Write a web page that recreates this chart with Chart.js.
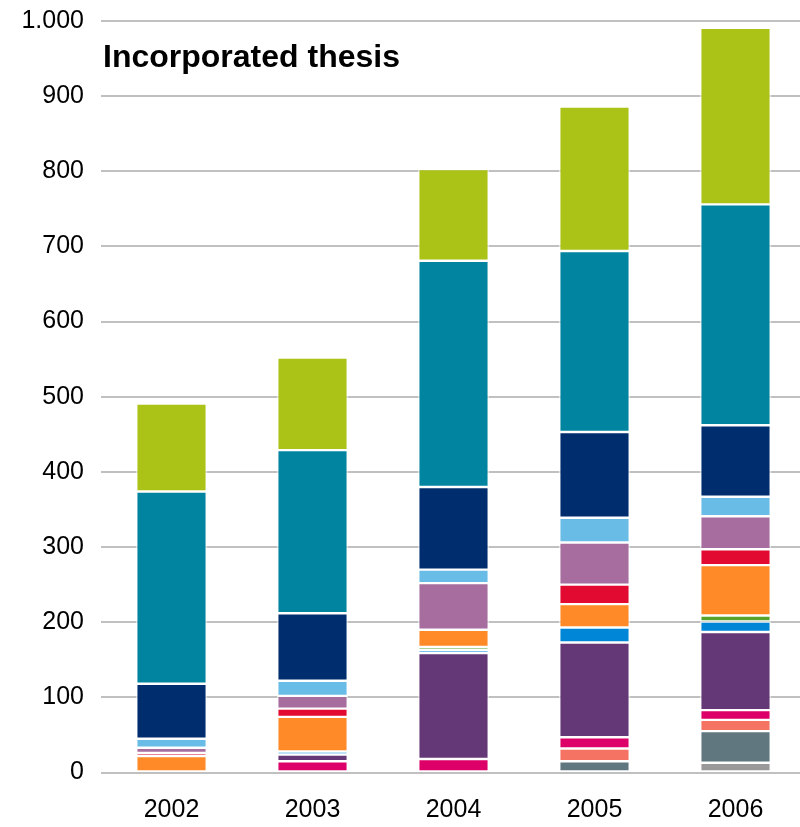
<!DOCTYPE html>
<html>
<head>
<meta charset="utf-8">
<script src="https://cdn.jsdelivr.net/npm/chart.js@4.4.1/dist/chart.umd.min.js"></script>
<style>
  html, body { margin: 0; padding: 0; background: #fff; overflow: hidden; }
  #wrap { width: 806px; height: 827px; }
</style>
</head>
<body>
<div id="wrap"><canvas id="thesisChart" width="806" height="827"></canvas></div>
<script>
const years = ["2002", "2003", "2004", "2005", "2006"];
const yTicks = [0, 100, 200, 300, 400, 500, 600, 700, 800, 900, 1000];

// stacked from the bottom up
const grey      = [null, null, null, null, 13];
const slate     = [null, null, null, 15, 42];
const salmon    = [null, null, null, 17, 15];
const magenta   = [null, 15, 18, 15, 13];
const purple    = [null, 9, 141, 126, 104];
const blue      = [null, 4, 4, 20, 14];
const green     = [null, null, 4, null, 8];
const orange    = [22, 46, 23, 31, 67];
const red       = [4, 11, null, 26, 21];
const mauve     = [7, 17, 62, 56, 44];
const lightBlue = [12, 20, 18, 33, 26];
const navy      = [73, 90, 110, 114, 95];
const teal      = [256, 217, 301, 241, 294];
const lime      = [117, 123, 122, 192, 235];

const series = [
  ["Grey", grey, "#999999"],
  ["Slate", slate, "#617780"],
  ["Salmon", salmon, "#f57363"],
  ["Magenta", magenta, "#dc0068"],
  ["Purple", purple, "#643776"],
  ["Blue", blue, "#0086d6"],
  ["Green", green, "#56a42e"],
  ["Orange", orange, "#ff8a27"],
  ["Red", red, "#e20a30"],
  ["Mauve", mauve, "#a66d9e"],
  ["Light blue", lightBlue, "#68bce6"],
  ["Navy", navy, "#002d6e"],
  ["Teal", teal, "#00849f"],
  ["Lime", lime, "#abc217"],
];

const titleText = {
  id: "titleText",
  afterDraw(chart) {
    const { ctx, chartArea } = chart;
    ctx.save();
    ctx.font = "bold 32px 'Liberation Sans', Arial, sans-serif";
    ctx.fillStyle = "#000";
    ctx.textBaseline = "alphabetic";
    ctx.fillText("Incorporated thesis", chartArea.left + 2, chartArea.top + 46);
    ctx.restore();
  }
};

const fmt = v => v >= 1000 ? Math.floor(v / 1000) + "." + String(v % 1000).padStart(3, "0") : String(v);

const ctx = document.getElementById("thesisChart").getContext("2d");
new Chart(ctx, {
  type: "bar",
  data: {
    labels: years,
    datasets: series.map(([label, data, color]) => ({
      label: label,
      data: data,
      backgroundColor: color,
      borderColor: "#ffffff",
      borderWidth: 1.2,
      borderSkipped: false,
      barPercentage: 0.5,
      categoryPercentage: 1.0,
    }))
  },
  options: {
    responsive: false,
    animation: false,
    layout: { padding: { top: 21, right: 0, left: 0, bottom: 0 } },
    plugins: {
      legend: { display: false },
      tooltip: { enabled: false }
    },
    scales: {
      x: {
        stacked: true,
        grid: { display: false },
        border: { display: false },
        ticks: {
          color: "#000",
          font: { family: "'Liberation Sans', Arial, sans-serif", size: 25 },
          padding: 15
        },
        afterFit: scale => { scale.height = 54.5; }
      },
      y: {
        stacked: true,
        min: 0,
        max: 1000,
        afterBuildTicks: scale => { scale.ticks = yTicks.map(v => ({ value: v })); },
        grid: { color: "#c0c0c0", lineWidth: 2, drawTicks: false },
        border: { display: false },
        ticks: {
          color: "#000",
          font: { family: "'Liberation Sans', Arial, sans-serif", size: 25 },
          padding: 17,
          callback: v => fmt(v)
        },
        afterFit: scale => {
          scale.width = 101;
          scale.paddingTop = 0;
          scale.paddingBottom = 0;
        }
      }
    }
  },
  plugins: [titleText]
});
</script>
</body>
</html>
